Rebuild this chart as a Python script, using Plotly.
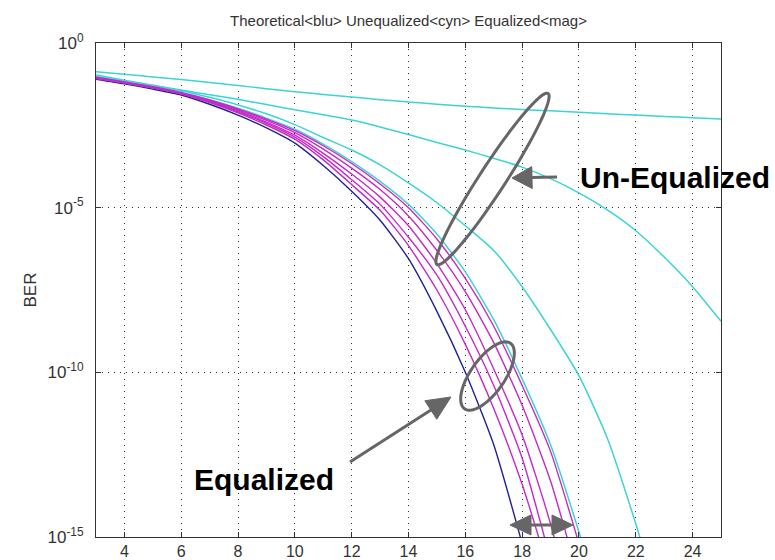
import numpy as np
import plotly.graph_objects as go

# ---------------- data ----------------
# Eb/N0 (dB) grid; every series starts at 3 dB, values are log10(BER)
snr_db = list(range(3, 26))

theoretical_log10 = [-1.10, -1.24, -1.40, -1.58, -1.86, -2.19, -2.58, -3.04, -3.72, -4.50,
                     -5.38, -6.55, -8.15, -10.0, -12.2, -15.2]

unequalized_log10 = [
    [-0.87, -0.95, -1.03, -1.11, -1.20, -1.29, -1.39, -1.48, -1.56, -1.64, -1.72, -1.79,
     -1.86, -1.92, -1.97, -2.02, -2.06, -2.10, -2.15, -2.19, -2.23, -2.27, -2.31],
    [-0.97, -1.13, -1.28, -1.43, -1.57, -1.71, -1.87, -2.03, -2.18, -2.34, -2.55, -2.78,
     -3.02, -3.25, -3.50, -3.77, -4.12, -4.55, -5.07, -5.70, -6.50, -7.40, -8.45],
    [-1.02, -1.15, -1.29, -1.45, -1.65, -1.88, -2.15, -2.48, -2.87, -3.25, -3.70, -4.25,
     -4.85, -5.55, -6.30, -7.40, -8.70, -10.1, -12.0, -14.6, -17.5],
    [-1.04, -1.17, -1.32, -1.50, -1.72, -1.98, -2.28, -2.62, -3.07, -3.60, -4.20, -4.90,
     -5.80, -6.95, -8.40, -10.2, -12.2, -14.85, -17.8],
]

equalized_log10 = [
    [-1.08, -1.22, -1.37, -1.55, -1.81, -2.12, -2.49, -2.92, -3.55, -4.30, -5.08, -6.15,
     -7.50, -9.15, -11.1, -13.4, -16.2],
    [-1.07, -1.21, -1.36, -1.54, -1.79, -2.09, -2.44, -2.86, -3.45, -4.15, -4.90, -5.90,
     -7.05, -8.60, -10.4, -12.6, -15.7],
    [-1.06, -1.20, -1.35, -1.53, -1.77, -2.06, -2.40, -2.80, -3.35, -3.98, -4.68, -5.55,
     -6.70, -8.10, -9.90, -11.9, -14.6, -18.0],
    [-1.05, -1.19, -1.34, -1.52, -1.75, -2.03, -2.35, -2.72, -3.22, -3.80, -4.45, -5.25,
     -6.30, -7.55, -9.10, -11.0, -13.3, -16.3],
    [-1.04, -1.18, -1.33, -1.51, -1.73, -2.00, -2.31, -2.66, -3.12, -3.66, -4.28, -5.00,
     -5.95, -7.15, -8.60, -10.4, -12.4, -15.2],
]

x_ticks = [4, 6, 8, 10, 12, 14, 16, 18, 20, 22, 24]
y_tick_vals = [1e0, 1e-5, 1e-10, 1e-15]
y_tick_text = ["10<sup>0</sup>", "10<sup>-5</sup>", "10<sup>-10</sup>", "10<sup>-15</sup>"]

title_text = "Theoretical&lt;blu&gt; Unequalized&lt;cyn&gt; Equalized&lt;mag&gt;"

# ---------------- styling ----------------
W, H = 775, 560
L, R, T, B = 96, 54, 43, 23
PW, PH = W - L - R, H - T - B

BLUE = "#20209a"
CYAN = "#3cd4d4"
MAG = "#c828c8"
GREY = "#666666"
FONT = "Liberation Sans, Arial, sans-serif"


def px2paper(px, py):
    return (px - L) / PW, (T + PH - py) / PH


def path_from_px(points, close=True):
    pts = [px2paper(x, y) for x, y in points]
    s = "M " + " L ".join(f"{x:.5f},{y:.5f}" for x, y in pts)
    return s + (" Z" if close else "")


def ellipse_path(cx, cy, a, b, deg, n=90):
    t = np.linspace(0, 2 * np.pi, n)
    th = np.radians(deg)
    xs = cx + a * np.cos(th) * np.cos(t) - b * np.sin(th) * np.sin(t)
    ys = cy - (a * np.sin(th) * np.cos(t) + b * np.cos(th) * np.sin(t))
    return path_from_px(list(zip(xs, ys)))


shapes = []


def add_arrow(tail, tip, head_len=20, head_half=11, both=False):
    tail = np.array(tail, float)
    tip = np.array(tip, float)
    u = (tip - tail) / np.linalg.norm(tip - tail)
    n = np.array([-u[1], u[0]])
    ends = [(tip, u)] + ([(tail, -u)] if both else [])
    for p, d in ends:
        base = p - d * head_len
        tri = [tuple(p), tuple(base + n * head_half), tuple(base - n * head_half)]
        shapes.append(dict(type="path", xref="paper", yref="paper", path=path_from_px(tri),
                           fillcolor=GREY, line=dict(color=GREY, width=1)))
    start = tail + (u * (head_len - 2) if both else 0)
    end = tip - u * (head_len - 2)
    shapes.append(dict(type="path", xref="paper", yref="paper",
                       path=path_from_px([tuple(start), tuple(end)], close=False),
                       line=dict(color=GREY, width=3)))


fig = go.Figure()

for ys in unequalized_log10:
    fig.add_trace(go.Scatter(x=snr_db[:len(ys)], y=10 ** np.array(ys), mode="lines",
                             line=dict(color=CYAN, width=1.5, shape="spline", smoothing=0.6),
                             showlegend=False))
fig.add_trace(go.Scatter(x=snr_db[:len(theoretical_log10)], y=10 ** np.array(theoretical_log10),
                         mode="lines",
                         line=dict(color=BLUE, width=1.4, shape="spline", smoothing=0.6),
                         showlegend=False))
for ys in equalized_log10:
    fig.add_trace(go.Scatter(x=snr_db[:len(ys)], y=10 ** np.array(ys), mode="lines",
                             line=dict(color=MAG, width=1.4, shape="spline", smoothing=0.6),
                             showlegend=False))

shapes.append(dict(type="path", xref="paper", yref="paper",
                   path=ellipse_path(492.5, 179, 102, 13, 57), line=dict(color=GREY, width=3)))
shapes.append(dict(type="path", xref="paper", yref="paper",
                   path=ellipse_path(487.5, 376, 40, 17, 55), line=dict(color=GREY, width=3)))

add_arrow((557, 177), (512, 178), head_len=20, head_half=11)
add_arrow((350, 462), (451, 397), head_len=24, head_half=11)
add_arrow((510, 525), (573, 525), head_len=21, head_half=10, both=True)

annotations = []
x, y = px2paper(578, 178)
annotations.append(dict(x=x, y=y, xref="paper", yref="paper", text="Un-Equalized",
                        showarrow=False, xanchor="left", yanchor="middle",
                        font=dict(family=FONT, size=30, color="black", weight="bold")))
x, y = px2paper(192, 479)
annotations.append(dict(x=x, y=y, xref="paper", yref="paper", text="Equalized",
                        showarrow=False, xanchor="left", yanchor="middle",
                        font=dict(family=FONT, size=30, color="black", weight="bold")))

axis_common = dict(showline=True, linecolor="#333333", linewidth=1, mirror="ticks",
                   ticks="inside", ticklen=5, tickcolor="#333333", automargin=False,
                   showgrid=True, gridcolor="#333333", gridwidth=1, griddash="1px,5px",
                   zeroline=False)

fig.update_layout(
    width=W, height=H,
    margin=dict(l=L, r=R, t=T, b=B, pad=0),
    paper_bgcolor="white", plot_bgcolor="white",
    title=dict(text=title_text, x=0.5, xref="paper", xanchor="center",
               y=1 - 21 / H, yref="container", yanchor="middle",
               font=dict(family=FONT, size=15, color="#333333")),
    xaxis=dict(range=[3, 25], tickvals=x_ticks, ticklabelstandoff=0,
               tickfont=dict(family=FONT, size=16, color="#333333"), **axis_common),
    yaxis=dict(type="log", range=[-15, 0], tickvals=y_tick_vals, ticktext=y_tick_text,
               ticklabelstandoff=8,
               tickfont=dict(family=FONT, size=17, color="#333333"),
               title=dict(text="BER", font=dict(family=FONT, size=17, color="#333333"),
                          standoff=6),
               **axis_common),
    shapes=shapes,
    annotations=annotations,
)

fig.write_html("out.html")
